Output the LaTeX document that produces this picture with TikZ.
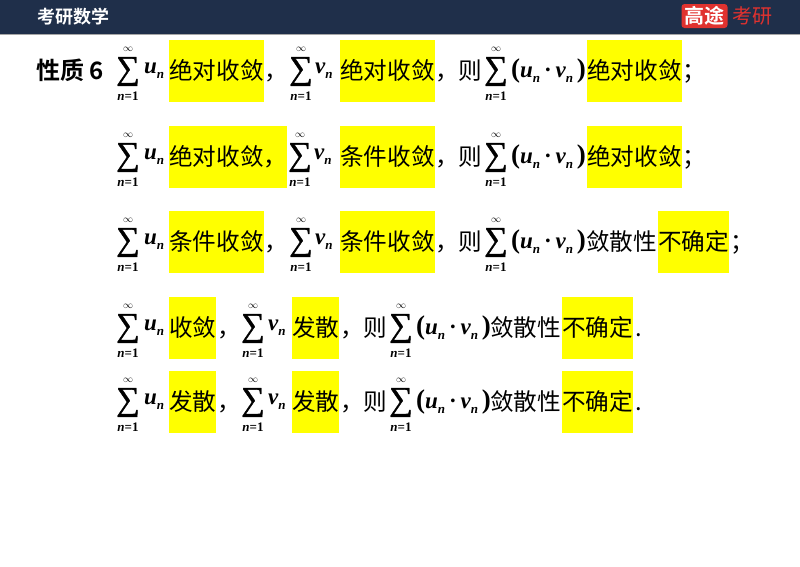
\documentclass[tikz,border=0pt]{standalone}
\usepackage{fontspec}
\setmainfont{Liberation Serif}
\newfontfamily\cjk{Noto Sans CJK SC}
\newfontfamily\cjkbold{Noto Sans CJK SC Bold}
\newfontfamily\sumfont[FakeBold=1.2]{Liberation Serif}
\usetikzlibrary{positioning}
\definecolor{headbar}{HTML}{1F2F4A}
\definecolor{logored}{HTML}{E0322F}
\definecolor{marker}{rgb}{1,1,0}

% one summation sign with its limits, centred on x
\newcommand{\sumsign}[3]{%
  \node[sumglyph] (#1) at (#2,#3+1.5) {∑};
  \node[toplimit] (#1top) at (#2,#3-21) {$\infty$};
  \node[limit] (#1bot) at (#2,#3+26) {\textit{n}=1};
}
\newcommand{\subn}{\raisebox{-5pt}{\fontsize{13}{13}\selectfont\textit{n}}}
\newcommand{\prodterm}{{\upshape\fontsize{27}{27}\selectfont(}u\subn\,{\upshape·}\,v\subn\,{\upshape\fontsize{27}{27}\selectfont)}}

\begin{document}
\begin{tikzpicture}[
    x=1pt, y=-1pt,
    sumglyph/.style={inner sep=0pt, font=\fontsize{33}{33}\selectfont\sumfont},
    limit/.style={inner sep=0pt, font=\fontsize{13}{13}\selectfont\bfseries},
    toplimit/.style={inner sep=0pt, font=\fontsize{10}{10}\selectfont},
    term/.style={inner sep=0pt, anchor=west, font=\fontsize{23}{23}\selectfont\bfseries\itshape},
    cn/.style={inner sep=0pt, anchor=west, text height=20pt, text depth=4pt, font=\fontsize{23.6}{24}\selectfont\cjk},
    hl/.style={cn, fill=marker, minimum height=62.5pt}
]
\useasboundingbox (0,0) rectangle (800,566);

% Header
\fill[headbar] (0,0) rectangle (800,34);
\fill[black!35] (0,34) rectangle (800,35);
\node[inner sep=0pt, anchor=west, text=white, font=\fontsize{18}{18}\selectfont\cjkbold] (title) at (37,16.5) {考研数学};
\node[inner sep=0pt, fill=logored, rounded corners=3pt, minimum width=46pt, minimum height=24pt, text=white, font=\fontsize{20}{20}\selectfont\cjkbold] (logoa) at (704.5,16) {高途};
\node[inner sep=0pt, anchor=west, text=logored, font=\fontsize{20}{20}\selectfont\cjk] (logob) at (732,16) {考研};

\node[inner sep=0pt, anchor=west, font=\fontsize{24}{24}\selectfont\cjkbold] (prop) at (36,70) {性质 6};

% Row 1
\sumsign{sa}{128}{70}
\node[term] (ua) at (144,71) {u\subn};
\node[hl] (ba) at (169,71) {绝对收敛};
\node[cn] (ca) at (264,71) {，};
\sumsign{sb}{301}{70}
\node[term] (va) at (315,71) {v\subn};
\node[hl] (bb) at (340,71) {绝对收敛};
\node[cn] (cb) at (435,71) {，则};
\sumsign{sc}{496}{70}
\node[term] (pa) at (511,71) {\prodterm};
\node[hl] (bc) at (587,71) {绝对收敛};
\node[cn] (ea) at (682,71) {；};

% Row 2
\sumsign{sd}{128}{156}
\node[term] (ub) at (144,157) {u\subn};
\node[hl] (bd) at (169,157) {绝对收敛，};
\sumsign{se}{300}{156}
\node[term] (vb) at (314,157) {v\subn};
\node[hl] (be) at (340,157) {条件收敛};
\node[cn] (cc) at (435,157) {，则};
\sumsign{sf}{496}{156}
\node[term] (pb) at (511,157) {\prodterm};
\node[hl] (bf) at (587,157) {绝对收敛};
\node[cn] (eb) at (682,157) {；};

% Row 3
\sumsign{sg}{128}{241}
\node[term] (uc) at (144,242) {u\subn};
\node[hl] (bg) at (169,242) {条件收敛};
\node[cn] (cd) at (264,242) {，};
\sumsign{sh}{301}{241}
\node[term] (vc) at (315,242) {v\subn};
\node[hl] (bh) at (340,242) {条件收敛};
\node[cn] (ce) at (435,242) {，则};
\sumsign{si}{496}{241}
\node[term] (pc) at (511,242) {\prodterm};
\node[cn] (dc) at (586,242) {敛散性};
\node[hl] (bi) at (658,242) {不确定};
\node[cn] (ec) at (730,242) {；};

% Row 4
\sumsign{sj}{128}{327}
\node[term] (ud) at (144,328) {u\subn};
\node[hl] (bj) at (169,328) {收敛};
\node[cn] (cf) at (217,328) {，};
\sumsign{sk}{253}{327}
\node[term] (vd) at (268,328) {v\subn};
\node[hl] (bk) at (292,328) {发散};
\node[cn] (cg) at (340,328) {，则};
\sumsign{sl}{401}{327}
\node[term] (pd) at (416,328) {\prodterm};
\node[cn] (dd) at (490,328) {敛散性};
\node[hl] (bl) at (562,328) {不确定};
\node[cn] (ed) at (635,328) {.};

% Row 5
\sumsign{sm}{128}{401}
\node[term] (ue) at (144,402) {u\subn};
\node[hl] (bm) at (169,402) {发散};
\node[cn] (ch) at (217,402) {，};
\sumsign{sn}{253}{401}
\node[term] (ve) at (268,402) {v\subn};
\node[hl] (bn) at (292,402) {发散};
\node[cn] (ci) at (340,402) {，则};
\sumsign{so}{401}{401}
\node[term] (pe) at (416,402) {\prodterm};
\node[cn] (de) at (490,402) {敛散性};
\node[hl] (bo) at (562,402) {不确定};
\node[cn] (ee) at (635,402) {.};

\end{tikzpicture}
\end{document}
